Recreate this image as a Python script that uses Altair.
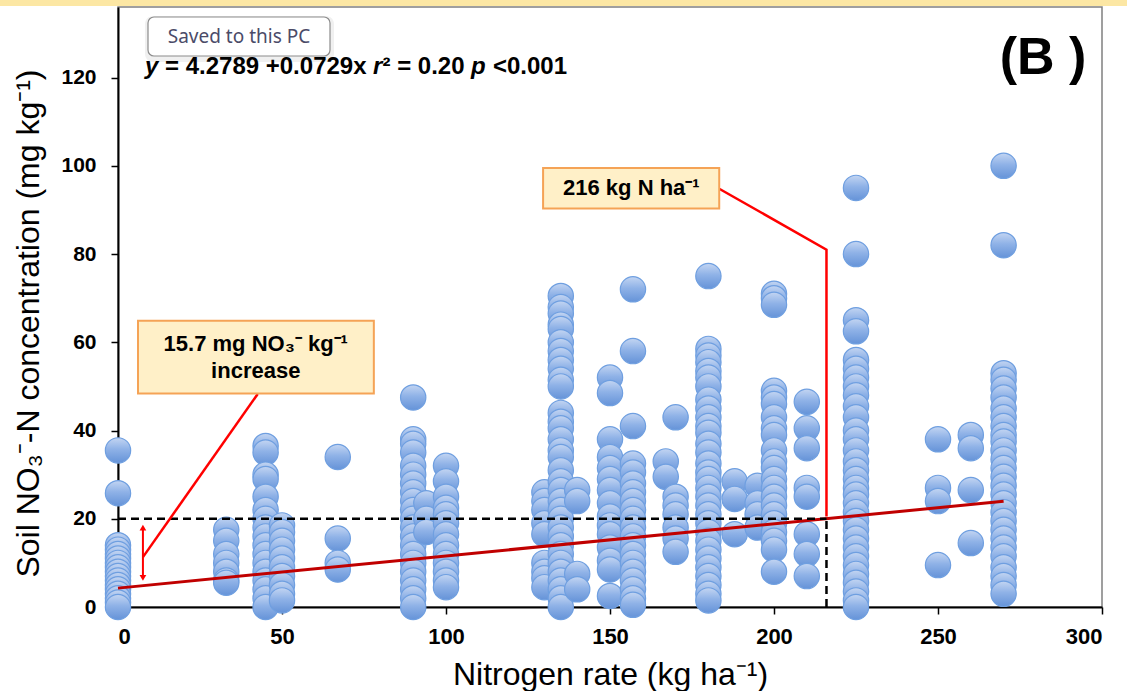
import altair as alt
import pandas as pd

# ---------------- data ----------------
rates = [0, 33, 45, 50, 67, 90, 94, 100, 130, 135, 140, 150, 157, 167, 170,
         180, 188, 195, 200, 210, 225, 250, 260, 270]
no3 = {
    0: [35.5, 25.8, 14, 13, 12, 11, 10, 9, 8, 7, 6, 5, 4, 3, 2, 1, 0],
    33: [17.5, 15, 12, 10, 8, 6, 5.5],
    45: [36.5, 35, 30, 29, 25, 22, 20, 18, 16, 14, 12, 10, 8, 6, 4, 2, 0],
    50: [18.5, 17, 15, 13, 11, 9, 7, 5, 3, 1.5],
    67: [34, 15.5, 10, 8.5],
    90: [47.5, 38, 37, 35, 32, 30, 28, 26, 24, 22, 20, 18, 16, 14, 12, 10, 8, 6, 4, 2, 0],
    94: [23.5, 20, 17],
    100: [32, 28.5, 25, 22.5, 21, 19, 16.5, 14, 12, 10, 8, 6, 4.5],
    130: [26, 24, 22, 19, 16.5, 10, 8, 6.5, 4.5],
    135: [70.5, 68, 66.5, 64, 63, 60, 58, 56, 54, 51.5, 50, 44, 42, 40.5, 38, 35.5, 34,
          31, 28.5, 26.5, 24, 22, 20, 18, 16, 14, 12, 10, 8, 6, 4, 2, 0],
    140: [26.5, 24, 7.5, 4],
    150: [52, 48.5, 38, 34, 31.5, 29, 26.5, 23.5, 20.5, 18.5, 16.5, 13.5, 10.5, 8.5, 2.5],
    157: [72, 58, 41, 32.5, 30.5, 28, 26, 24, 22, 20, 18, 16, 14, 12, 10, 8, 6, 4, 2, 0.5],
    167: [33, 29.5],
    170: [43, 25, 23, 21, 18, 15.5, 12.5],
    180: [75, 58.5, 57, 55.5, 53.5, 52, 50, 47, 45, 43, 41, 39.5, 37, 35, 32.5, 30.5, 29,
          27, 25, 23, 21, 19, 17, 15, 13, 11, 9, 7, 5, 3, 1.5],
    188: [28.5, 24.5, 16.5],
    195: [27.5, 23.5, 21, 18],
    200: [71, 70, 68.5, 49, 47.5, 46, 43, 40.5, 39, 35.5, 33, 31.5, 29, 27, 25, 23, 21,
          19, 17, 15, 13, 8],
    210: [46.5, 40.5, 36, 27, 25, 16.5, 12, 7],
    225: [95, 80, 65, 62.5, 56, 54, 52, 50, 48, 45.5, 43, 40, 38, 35.5, 33, 31, 29, 27,
          25.5, 23.5, 21.5, 19.5, 17.5, 15.5, 13.5, 11.5, 9.5, 7.5, 5.5, 3.5, 1.5, 0],
    250: [38, 27, 24, 9.5],
    260: [39, 36, 26.5, 14.5],
    270: [100, 82, 53, 51.5, 49.5, 47.5, 45, 43, 41, 39, 37.5, 35.5, 33.5, 31.5, 29.5,
          27.5, 25.5, 23.5, 21.5, 19.5, 17.5, 15.5, 13.5, 11.5, 9, 7, 5, 3],
}
intercept = 4.2789
slope = 0.0729
fit_x = [0, 270]
threshold_x = 216
threshold_y = 20
x_ticks = [0, 50, 100, 150, 200, 250, 300]
y_ticks = [0, 20, 40, 60, 80, 100, 120]

pts = pd.DataFrame([(r, v) for r in rates for v in no3[r]], columns=["x", "y"])

FONT = "Liberation Sans"
XS = alt.Scale(domain=[0, 300], nice=False, zero=False)
YS = alt.Scale(domain=[0, 136], nice=False, zero=False)

x_axis = alt.Axis(values=x_ticks, title="Nitrogen rate (kg ha\u207b\u00b9)", grid=False,
                  labelFont=FONT, labelFontSize=22, labelFontWeight="bold", labelColor="black",
                  tickColor="black", tickSize=7, tickWidth=1.5, domainColor="black", domainWidth=2,
                  labelPadding=12, titleFont=FONT, titleFontSize=32, titleFontWeight="normal",
                  titleColor="black", titleX=492, titleY=77, titleBaseline="alphabetic",
                  titleAlign="center")
y_axis = alt.Axis(values=y_ticks, title="Soil NO\u2083\u207b-N concentration (mg kg\u207b\u00b9)",
                  grid=False, labelFont=FONT, labelFontSize=21, labelFontWeight="bold",
                  labelColor="black", tickColor="black", tickSize=7, tickWidth=1.5,
                  domainColor="black", domainWidth=2, labelPadding=15, titleFont=FONT,
                  titleFontSize=32, titleFontWeight="normal", titleColor="black",
                  titleX=-90, titleY=316, titleAngle=270, titleAlign="center",
                  titleBaseline="middle")


def X(f="x"):
    return alt.X(f, type="quantitative", scale=XS, axis=x_axis)


def Y(f="y"):
    return alt.Y(f, type="quantitative", scale=YS, axis=y_axis)


grad = alt.LinearGradient(gradient="linear", x1=0, y1=0, x2=0, y2=1,
                          stops=[alt.GradientStop(offset=0, color="#c3d5f2"),
                                 alt.GradientStop(offset=0.45, color="#8fb2e7"),
                                 alt.GradientStop(offset=1, color="#6593d8")])

points = alt.Chart(pts).mark_circle(size=640, fill=grad, stroke="#6f9fe0", strokeWidth=1.2,
                                    opacity=1, clip=False).encode(x=X(), y=Y())

dash_df = pd.DataFrame({"x": [0, threshold_x], "x2": [threshold_x, threshold_x],
                        "y": [threshold_y, 0], "y2": [threshold_y, threshold_y]})
dashed = alt.Chart(dash_df).mark_rule(color="black", strokeWidth=2.5, strokeDash=[8, 5]).encode(
    x=X(), x2="x2", y=Y(), y2="y2")

fit_df = pd.DataFrame({"x": [fit_x[0]], "x2": [fit_x[1]],
                       "y": [intercept + slope * fit_x[0]], "y2": [intercept + slope * fit_x[1]]})
fit = alt.Chart(fit_df).mark_rule(color="#c00000", strokeWidth=3).encode(
    x=X(), x2="x2", y=Y(), y2="y2")

call_df = pd.DataFrame({
    "seg": ["a", "a", "a", "b", "b"],
    "ord": [0, 1, 2, 0, 1],
    "x": [183.3, 216, 216, 42.6, 7.6],
    "y": [94.8, 81, 20.5, 48.3, 11.3],
})
callouts = alt.Chart(call_df).mark_line(color="#ff0000", strokeWidth=2.5).encode(
    x=X(), y=Y(), detail="seg:N", order="ord:Q")

arrow_df = pd.DataFrame({"x": [7.6], "y": [7.2], "y2": [17.6]})
arrow_rule = alt.Chart(arrow_df).mark_rule(color="#ff0000", strokeWidth=2).encode(
    x=X(), y=Y(), y2="y2")
heads_df = pd.DataFrame({"x": [7.6, 7.6], "y": [18.0, 6.6], "s": ["triangle-up", "triangle-down"]})
heads = alt.Chart(heads_df).mark_point(filled=True, color="#ff0000", size=45, opacity=1).encode(
    x=X(), y=Y(), shape=alt.Shape("s:N", scale=None, legend=None))

box_df = pd.DataFrame({"x": [129.6, 6.1], "x2": [183.3, 78.0], "y": [99.5, 64.9], "y2": [90.3, 48.4]})
boxes = alt.Chart(box_df).mark_rect(fill="#fff0c8", stroke="#f5a356", strokeWidth=2).encode(
    x=X(), x2="x2", y=Y(), y2="y2")

btxt_df = pd.DataFrame({"x": [156.5, 42.0, 42.0], "y": [94.9, 59.7, 53.6],
                        "t": ["216 kg N ha\u207b\u00b9", "15.7 mg NO\u2083\u207b kg\u207b\u00b9", "increase"]})
box_text = alt.Chart(btxt_df).mark_text(font=FONT, fontSize=22, fontWeight="bold", color="black",
                                        align="center", baseline="middle").encode(
    x=X(), y=Y(), text="t:N")

label_b = alt.Chart(pd.DataFrame({"x": [282], "y": [124.5], "t": ["(B )"]})).mark_text(
    font=FONT, fontSize=52, fontWeight="bold", color="black", align="center",
    baseline="middle").encode(x=X(), y=Y(), text="t:N")

# regression equation, segment by segment (italic variables)
eq_segments = ["y", "= 4.2789 +0.0729x", "r", "\u00b2 = 0.20", "p", "<0.001"]
eq_offsets = [0, 20, 228, 237.5, 326, 348]
eq_italic = [True, False, True, False, True, False]
eq_layers = []
for seg, off, it in zip(eq_segments, eq_offsets, eq_italic):
    eq_layers.append(alt.Chart(pd.DataFrame({"x": [8.23], "y": [120.8], "t": [seg]})).mark_text(
        font=FONT, fontSize=24, fontWeight="bold", fontStyle="italic" if it else "normal",
        color="black", align="left", baseline="alphabetic", dx=off).encode(
        x=X(), y=Y(), text="t:N"))

# screenshot artefacts: yellow band at the top and the "Saved to this PC" tooltip
one = pd.DataFrame({"a": [0]})
band = alt.Chart(one).mark_rect(fill="#fce7a4", clip=False).encode(
    x=alt.value(-118), x2=alt.value(1009), y=alt.value(-7), y2=alt.value(-1))
tip_shadow = alt.Chart(one).mark_rect(fill="#000000", opacity=0.06, cornerRadius=8).encode(
    x=alt.value(27), x2=alt.value(216), y=alt.value(9), y2=alt.value(55))
tip_box = alt.Chart(one).mark_rect(fill="white", stroke="#8c8c8c", strokeWidth=1.2,
                                   cornerRadius=6).encode(
    x=alt.value(30), x2=alt.value(212), y=alt.value(10), y2=alt.value(49))
tip_text = alt.Chart(pd.DataFrame({"t": ["Saved to this PC"]})).mark_text(
    font="Noto Sans", fontSize=19, color="#4b4b68", align="center", baseline="middle").encode(
    x=alt.value(121), y=alt.value(30), text="t:N")

chart = alt.layer(
    band, points, fit, dashed, callouts, arrow_rule, heads, boxes, box_text, label_b,
    *eq_layers, tip_shadow, tip_box, tip_text
).properties(
    width=984, height=600,
    autosize=alt.AutoSizeParams(type="none"),
    padding={"left": 118, "top": 7, "right": 25, "bottom": 84},
    background="white",
).configure_view(stroke="#808080", strokeWidth=1.5)

chart.save("out.html", embed_options={"renderer": "svg", "actions": False})
